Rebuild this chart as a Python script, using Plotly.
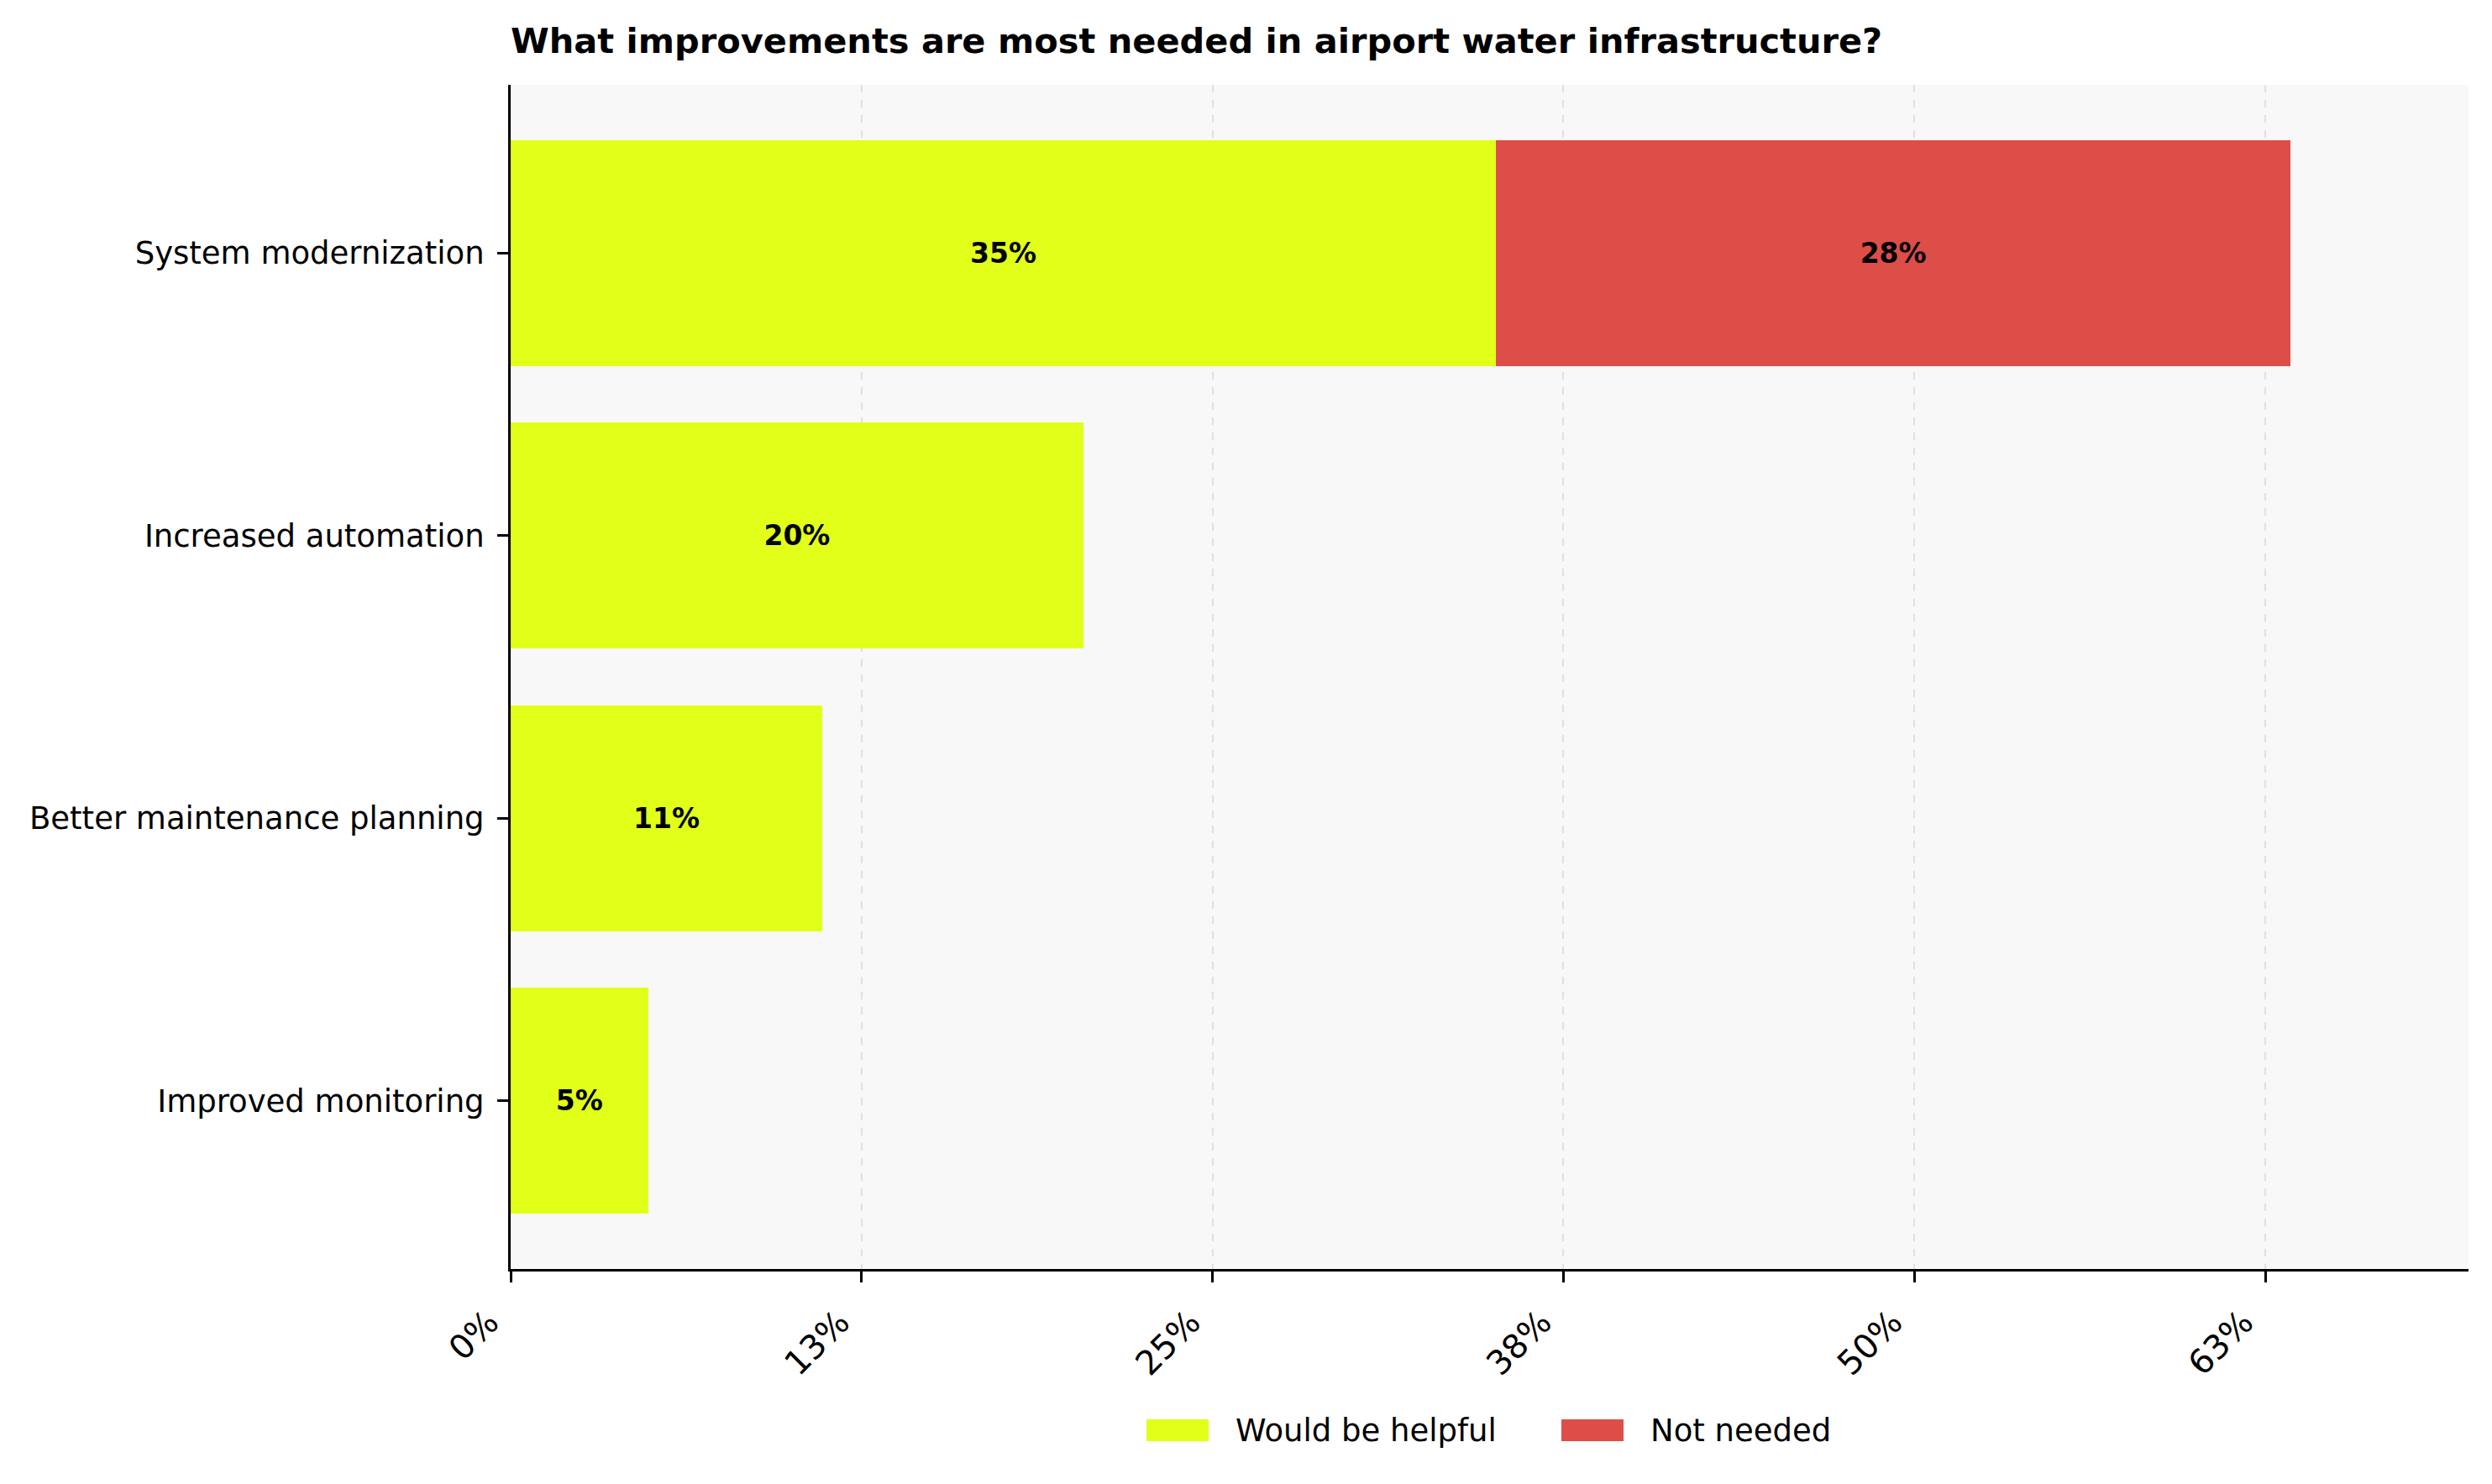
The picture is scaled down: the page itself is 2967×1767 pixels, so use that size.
import plotly.graph_objects as go

# survey answers, top to bottom as drawn
categories = ["System modernization", "Increased automation",
              "Better maintenance planning", "Improved monitoring"]
helpful = [35.1, 20.4, 11.1, 4.9]
not_needed = [28.3, None, None, None]

series_names = ["Would be helpful", "Not needed"]
series_colors = ["#e1ff19", "#dd4e48"]

tick_vals = [0, 12.5, 25, 37.5, 50, 62.5]
tick_text = [f"{int(v + 0.5)}%" for v in tick_vals]

W, H = 2967, 1767
L, R, T, B = 600, 36, 93, 264
PW, PH = W - L - R, H - T - B
font = "DejaVu Sans"


# pixel position (measured on the original picture) -> paper coords
def px_x(p):
    return (p - 607) / PW


def px_y(p):
    return 1 - (p - 100) / PH


fig = go.Figure()
for vals, name, col in zip([helpful, not_needed], series_names, series_colors):
    fig.add_trace(go.Bar(
        y=categories, x=vals, orientation="h", name=name,
        marker=dict(color=col, line=dict(width=0)), width=0.8,
        texttemplate="<b>%{x:.0f}%</b>", textposition="inside",
        insidetextanchor="middle", textangle=0, constraintext="none",
        textfont=dict(family=font, size=33, color="black"), hoverinfo="skip",
    ))

# legend drawn by hand so the swatches are wide rectangles like the original
swatch_left = [1364, 1858]
for x0, name, col in zip(swatch_left, series_names, series_colors):
    fig.add_shape(type="rect", xref="paper", yref="paper",
                  x0=px_x(x0), x1=px_x(x0 + 74), y0=px_y(1689), y1=px_y(1715),
                  fillcolor=col, line=dict(width=0))
    fig.add_annotation(text=name, xref="paper", yref="paper",
                       x=px_x(x0 + 104), y=px_y(1702), xanchor="left", yanchor="middle",
                       showarrow=False, font=dict(family=font, size=37, color="black"))

fig.update_layout(
    width=W, height=H,
    barmode="stack",
    paper_bgcolor="white", plot_bgcolor="#f8f8f8",
    margin=dict(l=L, r=R, t=T, b=B),
    font=dict(family=font, size=37, color="black"),
    title=dict(text="<b>What improvements are most needed in airport water infrastructure?</b>",
               font=dict(family=font, size=41.5, color="black"),
               x=L / W, xanchor="left", xref="container",
               y=1 - 40 / H, yanchor="middle", yref="container"),
    showlegend=False,
)
fig.update_xaxes(
    range=[0, 69.74], tickvals=tick_vals, ticktext=tick_text, tickangle=-45,
    tickfont=dict(family=font, size=40, color="black"),
    ticklabelshift=-26, ticklabelstandoff=8,
    showgrid=True, gridcolor="#e0e0e0", griddash="dash", gridwidth=2,
    zeroline=False, showline=True, linecolor="black", linewidth=3,
    ticks="outside", ticklen=13, tickwidth=3, tickcolor="black",
)
fig.update_yaxes(
    type="category", categoryorder="array", categoryarray=categories[::-1],
    range=[-0.595, 3.595],
    showgrid=False, zeroline=False, showline=True, linecolor="black", linewidth=3,
    ticks="outside", ticklen=13, tickwidth=3, tickcolor="black",
    ticklabelstandoff=8,
    tickfont=dict(family=font, size=37, color="black"),
)

fig.write_html("out.html")
